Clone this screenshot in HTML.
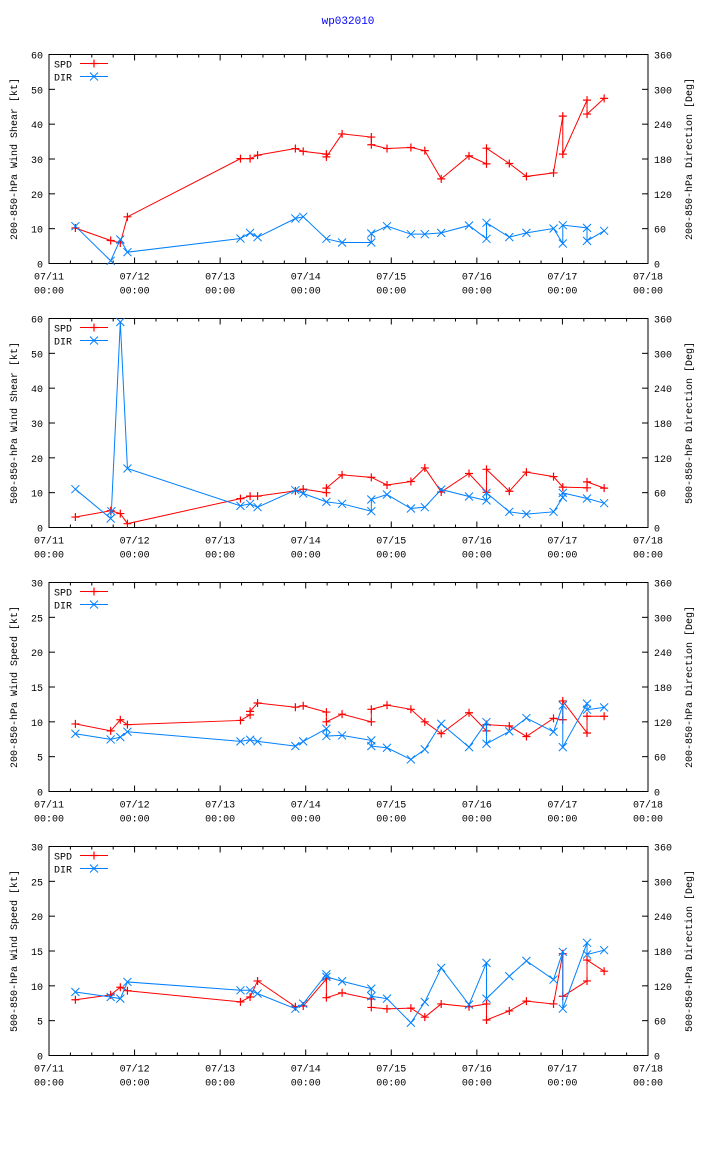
<!DOCTYPE html>
<html><head><meta charset="utf-8"><style>
html,body{margin:0;padding:0;background:#fff}
svg{display:block;font-family:"Liberation Mono","DejaVu Sans Mono",monospace;font-size:10px}
</style></head><body>
<svg id="chart" width="704" height="1156" viewBox="0 0 704 1156" xmlns="http://www.w3.org/2000/svg">
<rect width="704" height="1156" fill="#fff"/>
<text x="348" y="24" fill="#0000ff" text-anchor="middle" font-size="11">wp032010</text>
</svg>
<script>
// Time labels (days from 07/11 00:00)
const dayLabels = ["07/11","07/12","07/13","07/14","07/15","07/16","07/17","07/18"];
// Panel 1: 200-850 hPa wind shear
const p1Hours = [7.4,17.3,20.0,22.0,53.7,56.4,58.5,69.1,71.3,77.8,77.8,82.2,90.4,90.4,94.8,101.5,105.4,110.0,117.8,122.7,122.7,129.1,133.9,141.5,144.1,144.1,150.9,150.9,155.7];
const p1Spd = [10.2,6.6,5.9,13.4,30.1,30.1,31.1,33.0,32.2,31.4,30.6,37.2,36.3,34.1,33.0,33.3,32.4,24.3,30.9,28.6,33.1,28.7,25.0,26.0,42.3,31.4,46.9,42.9,47.4];
const p1DirHours = [7.4,17.3,20.0,22.0,53.7,56.4,58.5,69.1,71.3,77.8,82.2,90.4,90.4,94.8,101.5,105.4,110.0,117.8,122.7,122.7,129.1,133.9,141.5,144.1,144.1,150.9,150.9,155.7];
const p1Dir = [64.3,4.6,41.3,19.5,43.1,52.8,45.4,77.5,80.4,42.5,36.2,36.2,51.7,64.3,50.5,50.5,52.8,65.5,42.5,70.1,45.4,52.8,60.3,34.5,66.0,61.4,39.0,56.3];
// Panel 2: 500-850 hPa wind shear
const p2Hours = [7.4,17.3,20.0,22.0,53.7,56.4,58.5,69.1,71.3,77.8,77.8,82.2,90.4,94.8,101.5,105.4,110.0,117.8,122.7,122.7,129.1,133.9,141.5,144.1,150.9,150.9,155.7];
const p2Spd = [3.0,4.8,4.0,1.1,8.3,9.0,9.0,10.5,11.0,10.0,11.3,15.1,14.4,12.2,13.2,17.1,10.2,15.5,10.1,16.7,10.4,15.9,14.6,11.6,11.4,13.1,11.3];
const p2DirHours = [7.4,17.3,17.5,20.0,22.0,53.7,56.4,58.5,69.1,71.3,77.8,82.2,90.4,90.4,94.8,101.5,105.4,110.0,117.8,122.7,122.7,129.1,133.9,141.5,144.1,144.1,150.9,155.7];
const p2Dir = [66.0,15.5,28,354,101.6,37.3,40.8,35.0,64.3,58.6,44.2,40.8,28.1,48.2,56.8,32.7,35.0,65.5,53.4,46.5,59.7,27.0,23.0,27.0,51.7,59.7,50.0,41.9];
// Panel 3: 200-850 hPa wind speed
const p3Hours = [7.4,17.3,20.0,22.0,53.7,56.4,56.4,58.5,69.1,71.3,77.8,77.8,82.2,90.4,90.4,94.8,101.5,105.4,110.0,117.8,122.7,122.7,129.1,133.9,141.5,144.1,144.1,150.9,150.9,155.7];
const p3Spd = [9.7,8.7,10.3,9.6,10.2,11.0,11.5,12.7,12.1,12.3,11.4,10.0,11.1,10.0,11.8,12.4,11.8,10.0,8.3,11.3,8.7,9.6,9.4,7.9,10.5,10.3,13.0,8.4,10.8,10.8];
const p3DirHours = [7.4,17.3,20.0,22.0,53.7,56.4,58.5,69.1,71.3,77.8,77.8,82.2,90.4,90.4,94.8,101.5,105.4,110.0,117.8,122.7,122.7,129.1,133.9,141.5,144.1,144.1,150.9,150.9,155.7];
const p3Dir = [99.5,89.7,93.7,102.9,86.3,89.1,86.3,78.2,86.3,108.1,95.5,96.6,88.0,78.2,75.3,55.2,72.5,116.7,76.5,119.6,82.2,103.5,126.5,102.9,148.4,76.5,151.3,140.9,144.9];
// Panel 4: 500-850 hPa wind speed
const p4Hours = [7.4,17.3,20.0,22.0,53.7,56.4,58.5,69.1,71.3,77.8,77.8,82.2,90.4,90.4,94.8,101.5,105.4,110.0,117.8,122.7,122.7,129.1,133.9,141.5,144.1,144.1,150.9,150.9,155.7];
const p4Spd = [8.0,8.7,9.8,9.3,7.7,8.4,10.7,7.0,7.1,11.0,8.3,9.0,8.1,6.9,6.7,6.8,5.5,7.4,7.0,7.4,5.1,6.4,7.8,7.4,14.6,8.5,10.7,13.7,12.1];
const p4DirHours = [7.4,17.3,20.0,22.0,53.7,56.4,58.5,69.1,71.3,77.8,77.8,82.2,90.4,90.4,94.8,101.5,105.4,110.0,117.8,122.7,122.7,129.1,133.9,141.5,144.1,144.1,150.9,150.9,155.7];
const p4Dir = [109.4,100.8,97.9,126.7,112.3,112.3,106.6,80.6,89.3,140,135.4,127.9,115.2,102,97.9,56.4,92.2,150.9,87.6,159.6,97.9,136.5,163,130.8,178.6,80.6,194.1,174,181.4];

const panels = [
 {top:54.5, max:60, step:10, yl:"200-850-hPa Wind Shear [kt]", yr:"200-850-hPa Direction [Deg]", h:p1Hours, s:p1Spd, dh:p1DirHours, d:p1Dir},
 {top:318.5, max:60, step:10, yl:"500-850-hPa Wind Shear [kt]", yr:"500-850-hPa Direction [Deg]", h:p2Hours, s:p2Spd, dh:p2DirHours, d:p2Dir},
 {top:582.5, max:30, step:5, yl:"200-850-hPa Wind Speed [kt]", yr:"200-850-hPa Direction [Deg]", h:p3Hours, s:p3Spd, dh:p3DirHours, d:p3Dir},
 {top:846.5, max:30, step:5, yl:"500-850-hPa Wind Speed [kt]", yr:"500-850-hPa Direction [Deg]", h:p4Hours, s:p4Spd, dh:p4DirHours, d:p4Dir}
];
const svg = document.getElementById('chart');
const NS = "http://www.w3.org/2000/svg";
const L = 49, R = 648, H = 209;
function mk(tag, attrs, parent){const e=document.createElementNS(NS,tag);for(const k in attrs)e.setAttribute(k,attrs[k]);(parent||svg).appendChild(e);return e;}
function xs(h){return L + h/168*(R-L);}
const RED="#ff0000", BLUE="#0080ff";
function plus(g,x,y){mk('path',{d:`M${x-4},${y}H${x+4}M${x},${y-4}V${y+4}`,stroke:RED,'stroke-width':1.2,fill:'none'},g);}
function cross(g,x,y){mk('path',{d:`M${x-4},${y-4}L${x+4},${y+4}M${x-4},${y+4}L${x+4},${y-4}`,stroke:BLUE,'stroke-width':1,fill:'none'},g);}
panels.forEach((p,i)=>{
  const g = mk('g',{});
  
  
  const T=p.top, B=p.top+H;
  const ys=v=>B - v/p.max*H;
  const yd=v=>B - v/360*H;
  mk('rect',{x:L,y:T,width:R-L,height:H,fill:'none',stroke:'#000','stroke-width':1},g);
  for(let v=0; v<=p.max; v+=p.step){
    const y=ys(v);
    mk('line',{x1:L,y1:y,x2:L+6,y2:y,stroke:'#000'},g);
    const t=mk('text',{x:L-6,y:y+4,'text-anchor':'end'},g); t.textContent=v;
    
    
  }
  for(let v=0; v<=360; v+=60){
    const y=yd(v);
    mk('line',{x1:R-6,y1:y,x2:R,y2:y,stroke:'#000'},g);
    const t=mk('text',{x:R+6,y:y+4},g); t.textContent=v;
    
    
  }
  for(let k=0;k<=28;k++){
    const x=xs(k*6), len=(k%4===0)?6:3;
    mk('line',{x1:x,y1:B,x2:x,y2:B-len,stroke:'#000'},g);
    mk('line',{x1:x,y1:T,x2:x,y2:T+len,stroke:'#000'},g);
  }
  dayLabels.forEach((lab,k)=>{
    const x=xs(k*24);
    const t=mk('text',{x:x,y:B+16,'text-anchor':'middle'},g); t.textContent=lab;
    
    
    const t2=mk('text',{x:x,y:B+30,'text-anchor':'middle'},g); t2.textContent="00:00";
    
    
  });
  const cy=T+H/2;
  const a=mk('text',{x:17,y:cy,'text-anchor':'middle',transform:`rotate(-90 17 ${cy})`},g); a.textContent=p.yl;
  
  
  const b=mk('text',{x:692,y:cy,'text-anchor':'middle',transform:`rotate(-90 692 ${cy})`},g); b.textContent=p.yr;
  
  
  const lg=mk('g',{},g);
  
  
  const s1=mk('text',{x:54,y:T+13},lg); s1.textContent="SPD";
  mk('line',{x1:80,y1:T+9,x2:108,y2:T+9,stroke:RED},lg); plus(lg,94,T+9);
  const s2=mk('text',{x:54,y:T+26},lg); s2.textContent="DIR";
  mk('line',{x1:80,y1:T+22,x2:108,y2:T+22,stroke:BLUE},lg); cross(lg,94,T+22);
  const sp=mk('polyline',{points:p.h.map((h,j)=>xs(h)+','+ys(p.s[j])).join(' '),fill:'none',stroke:RED,'stroke-width':1},g);
  
  
  p.h.forEach((h,j)=>plus(g,xs(h),ys(p.s[j])));
  const dp=mk('polyline',{points:p.dh.map((h,j)=>xs(h)+','+yd(p.d[j])).join(' '),fill:'none',stroke:BLUE,'stroke-width':1},g);
  
  
  p.dh.forEach((h,j)=>cross(g,xs(h),yd(p.d[j])));
});
</script>
</body></html>
